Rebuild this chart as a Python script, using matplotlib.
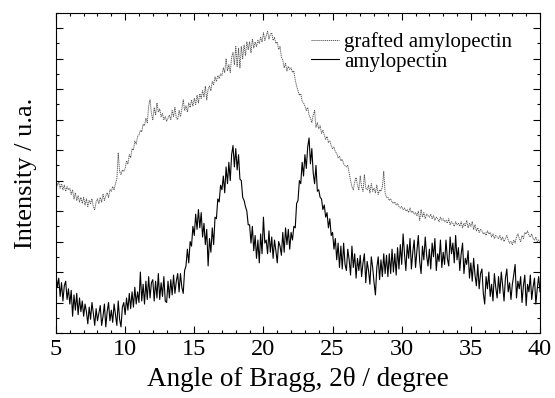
import numpy as np
import matplotlib
matplotlib.use("Agg")
import matplotlib.pyplot as plt
from matplotlib.ticker import MultipleLocator, NullFormatter

plt.rcParams["font.family"] = ["Liberation Serif", "DejaVu Serif"]

# 2theta scan, 5-40 deg in 0.1 deg steps (351 points)
two_theta = np.linspace(5, 40, 351)

# intensities (arbitrary units = y tick spacing)
grafted = [
    5.00, 4.85, 4.95, 4.75, 4.90, 4.70, 4.85, 4.65, 4.80, 4.70,
    4.75, 4.55, 4.70, 4.40, 4.60, 4.35, 4.50, 4.30, 4.45, 4.25,
    4.45, 4.20, 4.40, 4.15, 4.35, 4.25, 4.40, 4.15, 4.05, 4.30,
    4.40, 4.25, 4.45, 4.30, 4.55, 4.35, 4.50, 4.60, 4.45, 4.70,
    4.65, 4.80, 4.70, 4.90, 5.05, 5.90, 5.30, 5.20, 5.35, 5.30,
    5.40, 5.65, 5.55, 5.85, 5.75, 6.05, 6.00, 6.30, 6.20, 6.45,
    6.50, 6.65, 6.60, 6.85, 6.80, 7.05, 6.90, 7.45, 7.65, 7.20,
    7.00, 7.40, 7.15, 7.55, 7.25, 7.35, 7.10, 7.20, 7.00, 7.10,
    6.95, 7.05, 7.15, 7.00, 7.30, 7.10, 7.40, 7.05, 7.00, 7.30,
    7.10, 7.35, 7.65, 7.30, 7.45, 7.25, 7.55, 7.40, 7.65, 7.45,
    7.70, 7.50, 7.80, 7.55, 7.85, 7.70, 7.95, 7.75, 8.10, 7.65,
    8.00, 8.10, 7.95, 8.25, 8.15, 8.40, 8.25, 8.45, 8.35, 8.50,
    8.45, 8.70, 8.55, 9.00, 8.60, 8.80, 8.55, 9.05, 9.20, 8.80,
    9.40, 8.75, 9.35, 8.70, 9.40, 9.00, 9.45, 9.10, 9.55, 9.30,
    9.55, 9.20, 9.65, 9.35, 9.55, 9.40, 9.60, 9.50, 9.70, 9.55,
    9.85, 9.60, 9.75, 9.90, 9.65, 9.80, 9.85, 9.60, 9.70, 9.50,
    9.55, 9.30, 9.40, 9.05, 8.95, 8.70, 8.85, 8.60, 8.75, 8.65,
    8.70, 8.55, 8.60, 8.30, 8.10, 7.95, 7.80, 7.85, 7.60, 7.55,
    7.45, 7.30, 7.40, 7.15, 7.05, 6.90, 7.15, 7.30, 6.75, 6.90,
    6.70, 6.80, 6.55, 6.65, 6.50, 6.35, 6.45, 6.25, 6.30, 6.15,
    6.05, 6.10, 5.95, 5.90, 5.75, 5.80, 5.65, 5.70, 5.55, 5.50,
    5.45, 5.50, 5.25, 5.00, 4.80, 4.70, 4.95, 5.10, 4.85, 4.70,
    5.15, 4.80, 4.65, 5.20, 4.75, 4.70, 4.85, 4.60, 4.90, 4.65,
    4.75, 4.60, 4.85, 4.55, 4.70, 4.65, 4.80, 5.30, 4.60, 4.45,
    4.45, 4.35, 4.40, 4.30, 4.25, 4.30, 4.20, 4.25, 4.15, 4.10,
    4.15, 4.05, 4.10, 4.00, 4.05, 3.95, 4.10, 3.95, 4.00, 3.90,
    3.95, 3.85, 4.00, 3.70, 4.05, 3.80, 3.95, 3.75, 3.90, 3.85,
    3.80, 3.90, 3.75, 3.85, 3.70, 3.80, 3.75, 3.65, 3.80, 3.70,
    3.75, 3.65, 3.70, 3.60, 3.75, 3.55, 3.65, 3.60, 3.50, 3.65,
    3.55, 3.60, 3.50, 3.65, 3.45, 3.60, 3.50, 3.70, 3.45, 3.60,
    3.50, 3.65, 3.40, 3.55, 3.35, 3.45, 3.30, 3.40, 3.35, 3.25,
    3.30, 3.20, 3.35, 3.25, 3.30, 3.15, 3.25, 3.10, 3.20, 3.15,
    3.10, 3.20, 3.05, 3.15, 3.00, 3.10, 3.20, 3.05, 2.95, 3.00,
    2.90, 3.05, 2.95, 3.15, 3.25, 3.10, 3.00, 3.20, 3.10, 3.30,
    3.25, 3.35, 3.20, 3.15, 3.25, 3.10, 3.05, 3.15, 3.00, 3.05,
    3.00,
]

amylopectin = [
    1.95, 1.50, 1.80, 1.20, 1.65, 1.05, 1.55, 1.70, 1.10, 1.45,
    0.95, 1.40, 0.55, 1.25, 0.75, 1.30, 0.60, 1.15, 0.70, 1.05,
    0.55, 0.95, 0.70, 0.30, 0.85, 0.45, 1.00, 0.65, 0.25, 0.80,
    0.40, 0.65, 0.90, 0.25, 0.55, 0.95, 0.20, 0.70, 1.00, 0.40,
    0.75, 0.35, 0.95, 0.60, 0.25, 1.05, 0.45, 0.20, 0.85, 1.00,
    0.60, 1.15, 0.75, 1.30, 0.80, 1.35, 0.85, 1.50, 0.95, 1.35,
    1.00, 2.00, 1.05, 1.60, 0.95, 1.70, 1.10, 1.85, 1.15, 1.65,
    1.75, 1.05, 1.70, 1.15, 1.95, 1.10, 1.65, 1.20, 1.85, 1.05,
    1.00, 1.70, 1.15, 1.75, 1.25, 1.90, 1.30, 1.70, 1.95, 1.35,
    1.95, 1.50, 1.30, 2.05, 2.20, 2.75, 2.30, 3.00, 2.85, 3.50,
    3.20, 3.90, 3.40, 4.05, 3.45, 3.95, 3.15, 3.60, 2.90, 3.40,
    2.20, 3.10, 2.65, 3.45, 2.90, 3.80, 3.75, 4.40, 4.30, 4.85,
    4.70, 5.15, 4.60, 5.45, 4.90, 5.60, 5.00, 5.85, 6.15, 5.45,
    6.05, 5.35, 5.85, 5.05, 5.00, 4.45, 4.35, 4.15, 4.00, 3.55,
    3.55, 2.95, 3.50, 2.70, 3.20, 2.45, 3.05, 2.30, 3.25, 2.60,
    3.80, 2.95, 3.05, 2.60, 3.35, 2.65, 3.15, 2.45, 3.05, 2.70,
    2.30, 3.00, 2.85, 2.55, 3.30, 2.65, 3.45, 2.90, 3.40, 2.75,
    3.30, 3.05, 3.50, 3.45, 4.25, 4.35, 5.00, 4.90, 5.60, 5.15,
    5.85, 5.40, 6.10, 6.40, 5.55, 6.05, 5.25, 4.90, 5.50, 4.65,
    4.70, 4.45, 4.40, 4.05, 4.20, 3.80, 3.95, 3.45, 3.75, 3.20,
    3.30, 2.75, 3.10, 2.40, 2.95, 2.15, 2.85, 2.10, 2.95, 2.25,
    2.05, 2.75, 2.40, 1.90, 2.85, 2.15, 2.60, 1.80, 2.45, 2.05,
    2.55, 1.85, 2.30, 2.60, 1.65, 2.35, 2.05, 1.60, 2.50, 2.15,
    1.65, 1.25, 2.15, 2.50, 1.75, 2.40, 1.85, 2.60, 1.95, 2.55,
    1.85, 2.60, 1.95, 2.75, 2.00, 2.60, 1.90, 2.80, 2.10, 2.90,
    2.25, 3.25, 2.60, 2.05, 2.90, 2.45, 3.10, 2.10, 2.65, 3.05,
    2.15, 2.70, 3.20, 2.35, 1.95, 2.85, 2.40, 3.15, 2.55, 2.20,
    2.75, 2.10, 2.95, 2.50, 3.10, 2.05, 2.60, 2.35, 3.05, 2.15,
    2.65, 2.25, 3.05, 2.45, 2.20, 3.15, 2.60, 2.95, 2.30, 3.20,
    2.40, 2.80, 2.05, 2.60, 2.95, 1.95, 2.45, 2.25, 2.70, 1.80,
    2.30, 1.70, 2.45, 1.90, 1.55, 2.25, 1.45, 1.95, 2.10, 1.30,
    0.95, 1.85, 1.45, 2.00, 1.20, 1.60, 1.05, 1.95, 1.50, 1.15,
    1.85, 1.30, 2.00, 1.55, 1.05, 1.80, 2.10, 1.35, 1.65, 1.10,
    1.60, 1.90, 2.25, 1.15, 1.70, 1.45, 1.85, 1.00, 1.55, 1.90,
    0.90, 1.60, 1.35, 1.90, 1.10, 1.50, 1.80, 0.95, 1.45, 1.85,
    1.35,
]


def main():
    fig = plt.figure(figsize=(5.55, 3.98), dpi=100)
    ax = fig.add_axes([56 / 555, 65 / 398, 484 / 555, 320 / 398])

    ax.plot(two_theta, grafted, color="0.35", lw=0.7, ls=(0, (1.2, 0.8)),
            label="grafted amylopectin")
    ax.plot(two_theta, amylopectin, color="black", lw=0.8, label="amylopectin")

    ax.set_xlim(5, 40)
    ax.set_ylim(0, 10.5)
    ax.xaxis.set_major_locator(MultipleLocator(5))
    ax.xaxis.set_minor_locator(MultipleLocator(1))
    ax.yaxis.set_major_locator(MultipleLocator(1))
    ax.yaxis.set_minor_locator(MultipleLocator(0.5))
    ax.yaxis.set_major_formatter(NullFormatter())

    ax.tick_params(which="both", direction="in", top=True, right=True,
                   width=0.8, labelsize=17.5, pad=4)
    ax.tick_params(which="major", length=5)
    ax.tick_params(which="minor", length=2.5)
    for sp in ax.spines.values():
        sp.set_linewidth(0.8)

    ax.set_xlabel("Angle of Bragg, 2θ / degree", fontsize=19.5, labelpad=5)
    ax.set_ylabel("Intensity / u.a.", fontsize=19, labelpad=10)

    ax.legend(loc="upper right", bbox_to_anchor=(0.942, 0.94), frameon=False,
              fontsize=15, handlelength=1.35, handletextpad=0.25,
              labelspacing=0.0, borderaxespad=0, borderpad=0)

    fig.savefig("out.png", dpi=100)


if __name__ == "__main__":
    main()
